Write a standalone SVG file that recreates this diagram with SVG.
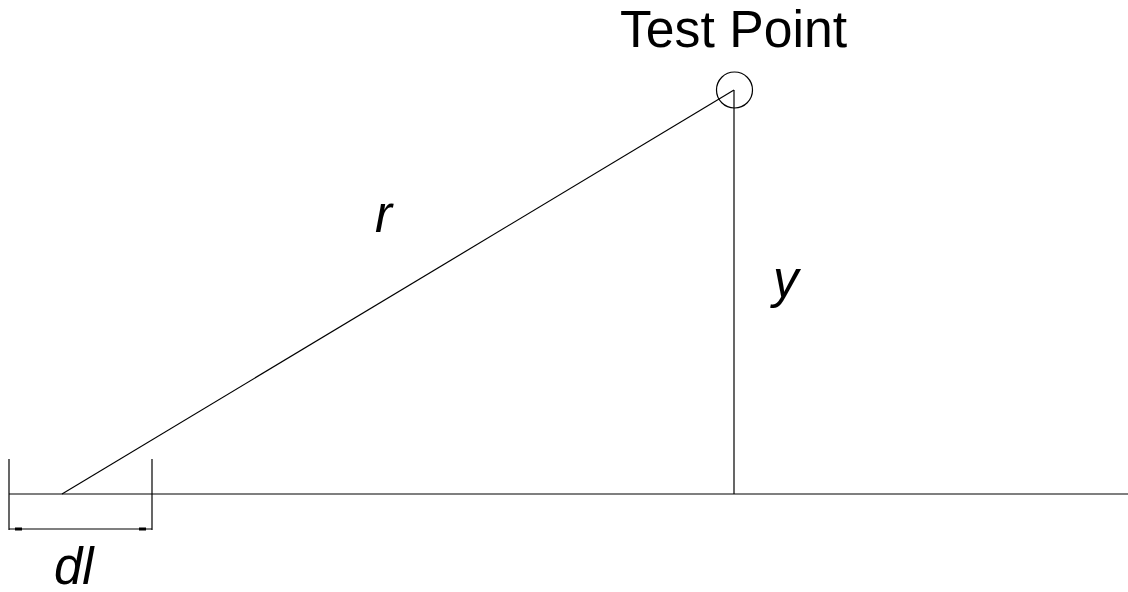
<svg xmlns="http://www.w3.org/2000/svg" width="1128" height="592" viewBox="0 0 1128 592">
<style>
.ln{stroke:#000;stroke-width:1.2;fill:none}
.lbl{font-family:"Liberation Sans",Arial,sans-serif;font-size:51px;fill:#000}
.it{font-style:italic}
</style>
<rect width="1128" height="592" fill="#fff"/>
<g id="connectors">
<line class="ln" x1="9" y1="494" x2="1128" y2="494"/>
<line class="ln" x1="62" y1="494" x2="734" y2="90"/>
<line class="ln" x1="734" y1="90" x2="734" y2="494"/>
</g>
<g id="dimension">
<line class="ln" x1="9" y1="459" x2="9" y2="530"/>
<line class="ln" x1="152" y1="459" x2="152" y2="530"/>
<line class="ln" x1="9" y1="529" x2="152" y2="529"/>
<rect x="15" y="527.5" width="7" height="3" fill="#000"/>
<rect x="139" y="527.5" width="7" height="3" fill="#000"/>
<text class="lbl it" x="54" y="584">dl</text>
</g>
<g id="test-point">
<circle class="ln" cx="734.5" cy="90" r="18"/>
<text class="lbl" x="620" y="47" textLength="227" lengthAdjust="spacingAndGlyphs">Test Point</text>
</g>
<g id="label-r"><text class="lbl it" x="375" y="232">r</text></g>
<g id="label-y"><text class="lbl it" x="773" y="297">y</text></g>
</svg>
